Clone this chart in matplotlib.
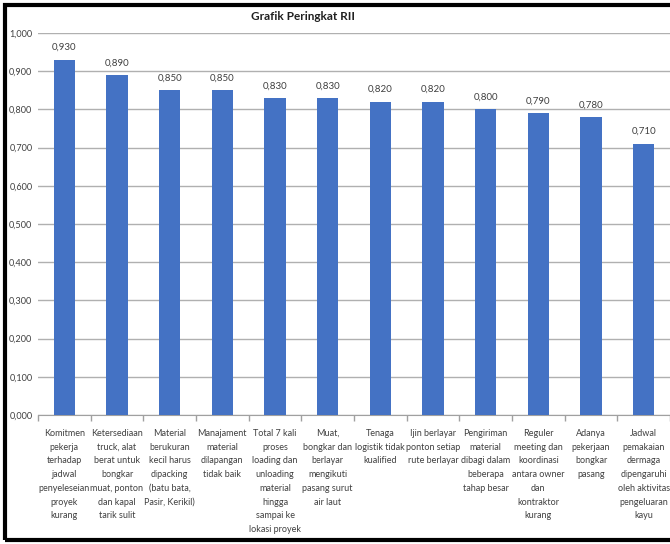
import matplotlib
matplotlib.use("Agg")
import matplotlib.pyplot as plt
from matplotlib.patches import Rectangle

categories = [
    "Komitmen\npekerja\nterhadap\njadwal\npenyeleseian\nproyek\nkurang",
    "Ketersediaan\ntruck, alat\nberat untuk\nbongkar\nmuat, ponton\ndan kapal\ntarik sulit",
    "Material\nberukuran\nkecil harus\ndipacking\n(batu bata,\nPasir, Kerikil)",
    "Manajament\nmaterial\ndilapangan\ntidak baik",
    "Total 7 kali\nproses\nloading dan\nunloading\nmaterial\nhingga\nsampai ke\nlokasi proyek",
    "Muat,\nbongkar dan\nberlayar\nmengikuti\npasang surut\nair laut",
    "Tenaga\nlogistik tidak\nkualified",
    "Ijin berlayar\nponton setiap\nrute berlayar",
    "Pengiriman\nmaterial\ndibagi dalam\nbeberapa\ntahap besar",
    "Reguler\nmeeting dan\nkoordinasi\nantara owner\ndan\nkontraktor\nkurang",
    "Adanya\npekerjaan\nbongkar\npasang",
    "Jadwal\npemakaian\ndermaga\ndipengaruhi\noleh aktivitas\npengeluaran\nkayu",
]
values = [0.930, 0.890, 0.850, 0.850, 0.830, 0.830, 0.820, 0.820, 0.800, 0.790, 0.780, 0.710]
yticks = [0.0, 0.1, 0.2, 0.3, 0.4, 0.5, 0.6, 0.7, 0.8, 0.9, 1.0]
title = "Grafik Peringkat RII"

plt.rcParams['font.family'] = ['Lato', 'DejaVu Sans']

W, H = 670, 544
fig = plt.figure(figsize=(W / 100, H / 100), dpi=100)
ax = fig.add_axes([38 / W, 1 - 415 / H, (670 - 38) / W, (415 - 33) / H])

x = list(range(len(values)))
ax.bar(x, values, width=0.4, color="#4472C4", zorder=3)
for xi, v in zip(x, values):
    ax.text(xi, v + 0.02, f"{v:.3f}".replace(".", ","), ha="center", va="bottom",
            fontsize=7, color="#404040")

ax.set_xlim(-0.5, len(values) - 0.5)
ax.set_ylim(0, 1.0)
ax.set_yticks(yticks)
ax.set_yticklabels([f"{t:.3f}".replace(".", ",") for t in yticks], fontsize=6.6, color="#404040")
ax.yaxis.grid(True, color="#B0B0B0", linewidth=1, zorder=0)
ax.tick_params(axis="y", length=0, pad=4)

ax.set_xticks(x)
ax.set_xticklabels(categories, fontsize=6.5, color="#404040", linespacing=1.68, va="top")
ax.set_xticks([i + 0.5 for i in range(-1, len(values))], minor=True)
ax.tick_params(axis="x", which="major", length=0, pad=10)
ax.tick_params(axis="x", which="minor", length=4, color="#A0A0A0", width=1)

for s in ["top", "right", "left"]:
    ax.spines[s].set_visible(False)
ax.spines["bottom"].set_color("#A0A0A0")

fig.text(303 / W, 1 - 17 / H, title, ha="center", va="center", fontsize=8.5, fontweight="bold",
         color="#202020")

fig.patches.append(Rectangle((5 / W, 4 / H), 1.0, 1 - 9 / H, transform=fig.transFigure,
                             fill=False, edgecolor="black", linewidth=3, zorder=10))

fig.savefig("out.png", dpi=100)
